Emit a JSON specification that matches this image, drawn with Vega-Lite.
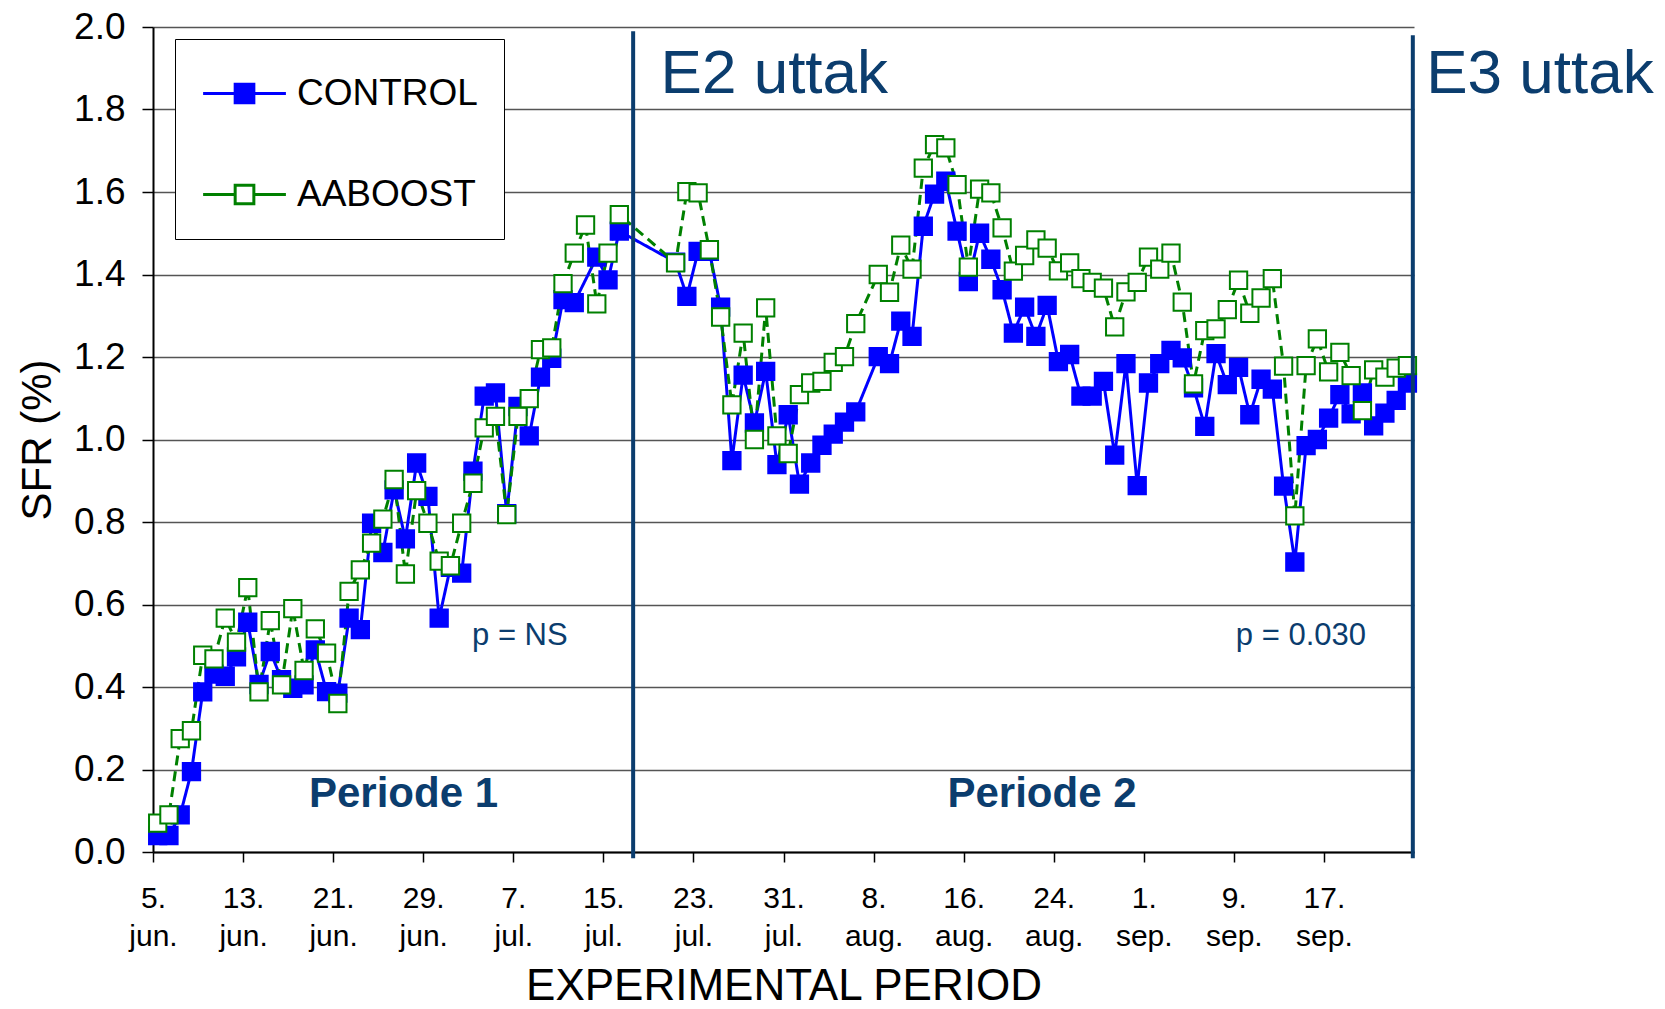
{
  "$schema": "https://vega.github.io/schema/vega-lite/v6.json",
  "width": 1261,
  "height": 825,
  "autosize": {"type": "none"},
  "padding": {"left": 153, "top": 27, "right": 251, "bottom": 157},
  "config": {"view": {"stroke": null}, "font": "Liberation Sans"},
  "datasets": {
    "sfr": [
      {"date": "2009-06-05T10:00Z", "CONTROL": 0.04, "AABOOST": 0.07},
      {"date": "2009-06-06T10:00Z", "CONTROL": 0.04, "AABOOST": 0.09},
      {"date": "2009-06-07T10:00Z", "CONTROL": 0.09, "AABOOST": 0.275},
      {"date": "2009-06-08T10:00Z", "CONTROL": 0.195, "AABOOST": 0.294},
      {"date": "2009-06-09T10:00Z", "CONTROL": 0.388, "AABOOST": 0.477},
      {"date": "2009-06-10T10:00Z", "CONTROL": 0.431, "AABOOST": 0.468},
      {"date": "2009-06-11T10:00Z", "CONTROL": 0.426, "AABOOST": 0.567},
      {"date": "2009-06-12T10:00Z", "CONTROL": 0.473, "AABOOST": 0.509},
      {"date": "2009-06-13T10:00Z", "CONTROL": 0.557, "AABOOST": 0.641},
      {"date": "2009-06-14T10:00Z", "CONTROL": 0.406, "AABOOST": 0.388},
      {"date": "2009-06-15T10:00Z", "CONTROL": 0.486, "AABOOST": 0.561},
      {"date": "2009-06-16T10:00Z", "CONTROL": 0.418, "AABOOST": 0.405},
      {"date": "2009-06-17T10:00Z", "CONTROL": 0.397, "AABOOST": 0.59},
      {"date": "2009-06-18T10:00Z", "CONTROL": 0.405, "AABOOST": 0.44},
      {"date": "2009-06-19T10:00Z", "CONTROL": 0.49, "AABOOST": 0.541},
      {"date": "2009-06-20T10:00Z", "CONTROL": 0.389, "AABOOST": 0.482},
      {"date": "2009-06-21T10:00Z", "CONTROL": 0.385, "AABOOST": 0.36},
      {"date": "2009-06-22T10:00Z", "CONTROL": 0.567, "AABOOST": 0.632},
      {"date": "2009-06-23T10:00Z", "CONTROL": 0.539, "AABOOST": 0.684},
      {"date": "2009-06-24T10:00Z", "CONTROL": 0.797, "AABOOST": 0.749},
      {"date": "2009-06-25T10:00Z", "CONTROL": 0.726, "AABOOST": 0.807},
      {"date": "2009-06-26T10:00Z", "CONTROL": 0.878, "AABOOST": 0.903},
      {"date": "2009-06-27T10:00Z", "CONTROL": 0.759, "AABOOST": 0.674},
      {"date": "2009-06-28T10:00Z", "CONTROL": 0.943, "AABOOST": 0.876},
      {"date": "2009-06-29T10:00Z", "CONTROL": 0.862, "AABOOST": 0.797},
      {"date": "2009-06-30T10:00Z", "CONTROL": 0.567, "AABOOST": 0.705},
      {"date": "2009-07-01T10:00Z", "CONTROL": 0.69, "AABOOST": 0.694},
      {"date": "2009-07-02T10:00Z", "CONTROL": 0.676, "AABOOST": 0.797},
      {"date": "2009-07-03T10:00Z", "CONTROL": 0.923, "AABOOST": 0.894},
      {"date": "2009-07-04T10:00Z", "CONTROL": 1.105, "AABOOST": 1.028},
      {"date": "2009-07-05T10:00Z", "CONTROL": 1.113, "AABOOST": 1.056},
      {"date": "2009-07-06T10:00Z", "CONTROL": 0.82, "AABOOST": 0.818},
      {"date": "2009-07-07T10:00Z", "CONTROL": 1.08, "AABOOST": 1.056},
      {"date": "2009-07-08T10:00Z", "CONTROL": 1.009, "AABOOST": 1.099},
      {"date": "2009-07-09T10:00Z", "CONTROL": 1.151, "AABOOST": 1.218},
      {"date": "2009-07-10T10:00Z", "CONTROL": 1.197, "AABOOST": 1.222},
      {"date": "2009-07-11T10:00Z", "CONTROL": 1.339, "AABOOST": 1.378},
      {"date": "2009-07-12T10:00Z", "CONTROL": 1.332, "AABOOST": 1.452},
      {"date": "2009-07-13T10:00Z", "AABOOST": 1.52},
      {"date": "2009-07-14T10:00Z", "CONTROL": 1.442, "AABOOST": 1.329},
      {"date": "2009-07-15T10:00Z", "CONTROL": 1.387, "AABOOST": 1.452},
      {"date": "2009-07-16T10:00Z", "CONTROL": 1.505, "AABOOST": 1.545},
      {"date": "2009-07-21T10:00Z", "CONTROL": 1.43, "AABOOST": 1.428},
      {"date": "2009-07-22T10:00Z", "CONTROL": 1.347, "AABOOST": 1.601},
      {"date": "2009-07-23T10:00Z", "CONTROL": 1.456, "AABOOST": 1.598},
      {"date": "2009-07-24T10:00Z", "CONTROL": 1.456, "AABOOST": 1.46},
      {"date": "2009-07-25T10:00Z", "CONTROL": 1.321, "AABOOST": 1.297},
      {"date": "2009-07-26T10:00Z", "CONTROL": 0.949, "AABOOST": 1.084},
      {"date": "2009-07-27T10:00Z", "CONTROL": 1.156, "AABOOST": 1.258},
      {"date": "2009-07-28T10:00Z", "CONTROL": 1.04, "AABOOST": 1.0},
      {"date": "2009-07-29T10:00Z", "CONTROL": 1.165, "AABOOST": 1.319},
      {"date": "2009-07-30T10:00Z", "CONTROL": 0.939, "AABOOST": 1.009},
      {"date": "2009-07-31T10:00Z", "CONTROL": 1.06, "AABOOST": 0.966},
      {"date": "2009-08-01T10:00Z", "CONTROL": 0.892, "AABOOST": 1.109},
      {"date": "2009-08-02T10:00Z", "CONTROL": 0.943, "AABOOST": 1.137},
      {"date": "2009-08-03T10:00Z", "CONTROL": 0.986, "AABOOST": 1.141},
      {"date": "2009-08-04T10:00Z", "CONTROL": 1.013, "AABOOST": 1.187},
      {"date": "2009-08-05T10:00Z", "CONTROL": 1.042, "AABOOST": 1.201},
      {"date": "2009-08-06T10:00Z", "CONTROL": 1.067, "AABOOST": 1.281},
      {"date": "2009-08-08T10:00Z", "CONTROL": 1.201, "AABOOST": 1.4},
      {"date": "2009-08-09T10:00Z", "CONTROL": 1.184, "AABOOST": 1.357},
      {"date": "2009-08-10T10:00Z", "CONTROL": 1.287, "AABOOST": 1.471},
      {"date": "2009-08-11T10:00Z", "CONTROL": 1.25, "AABOOST": 1.413},
      {"date": "2009-08-12T10:00Z", "CONTROL": 1.517, "AABOOST": 1.658},
      {"date": "2009-08-13T10:00Z", "CONTROL": 1.595, "AABOOST": 1.715},
      {"date": "2009-08-14T10:00Z", "CONTROL": 1.626, "AABOOST": 1.707},
      {"date": "2009-08-15T10:00Z", "CONTROL": 1.505, "AABOOST": 1.618},
      {"date": "2009-08-16T10:00Z", "CONTROL": 1.383, "AABOOST": 1.418},
      {"date": "2009-08-17T10:00Z", "CONTROL": 1.5, "AABOOST": 1.607},
      {"date": "2009-08-18T10:00Z", "CONTROL": 1.437, "AABOOST": 1.598},
      {"date": "2009-08-19T10:00Z", "CONTROL": 1.363, "AABOOST": 1.513},
      {"date": "2009-08-20T10:00Z", "CONTROL": 1.258, "AABOOST": 1.408},
      {"date": "2009-08-21T10:00Z", "CONTROL": 1.321, "AABOOST": 1.446},
      {"date": "2009-08-22T10:00Z", "CONTROL": 1.25, "AABOOST": 1.484},
      {"date": "2009-08-23T10:00Z", "CONTROL": 1.325, "AABOOST": 1.464},
      {"date": "2009-08-24T10:00Z", "CONTROL": 1.189, "AABOOST": 1.409},
      {"date": "2009-08-25T10:00Z", "CONTROL": 1.206, "AABOOST": 1.428},
      {"date": "2009-08-26T10:00Z", "CONTROL": 1.105, "AABOOST": 1.39},
      {"date": "2009-08-27T10:00Z", "CONTROL": 1.105, "AABOOST": 1.381},
      {"date": "2009-08-28T10:00Z", "CONTROL": 1.141, "AABOOST": 1.367},
      {"date": "2009-08-29T10:00Z", "CONTROL": 0.962, "AABOOST": 1.273},
      {"date": "2009-08-30T10:00Z", "CONTROL": 1.184, "AABOOST": 1.358},
      {"date": "2009-08-31T10:00Z", "CONTROL": 0.888, "AABOOST": 1.381},
      {"date": "2009-09-01T10:00Z", "CONTROL": 1.137, "AABOOST": 1.442},
      {"date": "2009-09-02T10:00Z", "CONTROL": 1.184, "AABOOST": 1.413},
      {"date": "2009-09-03T10:00Z", "CONTROL": 1.216, "AABOOST": 1.452},
      {"date": "2009-09-04T10:00Z", "CONTROL": 1.198, "AABOOST": 1.333},
      {"date": "2009-09-05T10:00Z", "CONTROL": 1.125, "AABOOST": 1.135},
      {"date": "2009-09-06T10:00Z", "CONTROL": 1.032, "AABOOST": 1.264},
      {"date": "2009-09-07T10:00Z", "CONTROL": 1.208, "AABOOST": 1.268},
      {"date": "2009-09-08T10:00Z", "CONTROL": 1.133, "AABOOST": 1.315},
      {"date": "2009-09-09T10:00Z", "CONTROL": 1.175, "AABOOST": 1.386},
      {"date": "2009-09-10T10:00Z", "CONTROL": 1.06, "AABOOST": 1.306},
      {"date": "2009-09-11T10:00Z", "CONTROL": 1.146, "AABOOST": 1.343},
      {"date": "2009-09-12T10:00Z", "CONTROL": 1.122, "AABOOST": 1.39},
      {"date": "2009-09-13T10:00Z", "CONTROL": 0.887, "AABOOST": 1.178},
      {"date": "2009-09-14T10:00Z", "CONTROL": 0.703, "AABOOST": 0.815},
      {"date": "2009-09-15T10:00Z", "CONTROL": 0.985, "AABOOST": 1.179},
      {"date": "2009-09-16T10:00Z", "CONTROL": 1.0, "AABOOST": 1.244},
      {"date": "2009-09-17T10:00Z", "CONTROL": 1.052, "AABOOST": 1.164},
      {"date": "2009-09-18T10:00Z", "CONTROL": 1.109, "AABOOST": 1.211},
      {"date": "2009-09-19T10:00Z", "CONTROL": 1.062, "AABOOST": 1.155},
      {"date": "2009-09-20T10:00Z", "CONTROL": 1.113, "AABOOST": 1.07},
      {"date": "2009-09-21T10:00Z", "CONTROL": 1.033, "AABOOST": 1.169},
      {"date": "2009-09-22T10:00Z", "CONTROL": 1.064, "AABOOST": 1.151},
      {"date": "2009-09-23T10:00Z", "CONTROL": 1.095, "AABOOST": 1.173},
      {"date": "2009-09-24T10:00Z", "CONTROL": 1.137, "AABOOST": 1.179}
    ],
    "events": [
      {"event": "E2", "date": "2009-07-17T15:30Z", "sfr": 1.99},
      {"event": "E3", "date": "2009-09-24T21:30Z", "sfr": 1.98}
    ],
    "bigLabels": [
      {"label": "E2 uttak", "date": "2009-07-20T02:00Z", "sfr": 1.84},
      {"label": "E3 uttak", "date": "2009-09-26T02:00Z", "sfr": 1.84}
    ],
    "periods": [
      {"label": "Periode 1", "date": "2009-06-27T06:00Z", "sfr": 0.11},
      {"label": "Periode 2", "date": "2009-08-22T23:00Z", "sfr": 0.11}
    ],
    "pvalues": [
      {"label": "p = NS", "date": "2009-07-07T14:00Z", "sfr": 0.503},
      {"label": "p = 0.030", "date": "2009-09-14T23:00Z", "sfr": 0.503}
    ]
  },
  "layer": [
    {
      "data": {"name": "sfr"},
      "transform": [{"fold": ["CONTROL", "AABOOST"], "as": ["series", "sfr"]}],
      "mark": {"type": "line", "strokeWidth": 3, "invalid": "filter"},
      "encoding": {
        "x": {
          "field": "date", "type": "temporal",
          "scale": {"type": "utc", "nice": false, "domain": [
            {"year": 2009, "month": "Jun", "date": 5, "utc": true},
            {"year": 2009, "month": "Sep", "date": 25, "utc": true}
          ]},
          "axis": {
            "values": [
              {"year": 2009, "month": "Jun", "date": 5, "utc": true},
              {"year": 2009, "month": "Jun", "date": 13, "utc": true},
              {"year": 2009, "month": "Jun", "date": 21, "utc": true},
              {"year": 2009, "month": "Jun", "date": 29, "utc": true},
              {"year": 2009, "month": "Jul", "date": 7, "utc": true},
              {"year": 2009, "month": "Jul", "date": 15, "utc": true},
              {"year": 2009, "month": "Jul", "date": 23, "utc": true},
              {"year": 2009, "month": "Jul", "date": 31, "utc": true},
              {"year": 2009, "month": "Aug", "date": 8, "utc": true},
              {"year": 2009, "month": "Aug", "date": 16, "utc": true},
              {"year": 2009, "month": "Aug", "date": 24, "utc": true},
              {"year": 2009, "month": "Sep", "date": 1, "utc": true},
              {"year": 2009, "month": "Sep", "date": 9, "utc": true},
              {"year": 2009, "month": "Sep", "date": 17, "utc": true}
            ],
            "labelExpr": "[utcdate(datum.value) + '.', ['jan','feb','mar','apr','mai','jun','jul','aug','sep','okt','nov','des'][utcmonth(datum.value)] + '.']",
            "labelFontSize": 30, "labelLineHeight": 38, "labelPadding": 21,
            "labelColor": "black", "labelFlush": false, "labelOverlap": false,
            "labelBaseline": "top",
            "tickSize": 10, "tickColor": "black", "tickWidth": 1.5,
            "domainColor": "black", "domainWidth": 2, "grid": false,
            "title": "EXPERIMENTAL PERIOD", "titleFontSize": 44, "titleFontWeight": "normal",
            "titleColor": "black", "titlePadding": 13
          }
        },
        "y": {
          "field": "sfr", "type": "quantitative",
          "scale": {"domain": [0, 2], "nice": false},
          "axis": {
            "values": [0, 0.2, 0.4, 0.6, 0.8, 1.0, 1.2, 1.4, 1.6, 1.8, 2.0],
            "format": ".1f", "labelFontSize": 37, "labelPadding": 17, "labelColor": "black",
            "labelFlush": false,
            "tickSize": 11, "tickColor": "black", "tickWidth": 1.5,
            "grid": true, "gridColor": "#555555", "gridWidth": 1.3,
            "domainColor": "black", "domainWidth": 2,
            "title": "SFR (%)", "titleFontSize": 42, "titleFontWeight": "normal",
            "titleColor": "black", "titlePadding": 14
          }
        },
        "stroke": {
          "field": "series", "type": "nominal",
          "scale": {"domain": ["CONTROL", "AABOOST"], "range": ["#0000ff", "#008000"]}
        },
        "strokeDash": {
          "condition": {"test": "datum.series == 'AABOOST'", "value": [10, 6]},
          "value": [1, 0]
        }
      }
    },
    {
      "data": {"name": "sfr"},
      "transform": [{"fold": ["CONTROL", "AABOOST"], "as": ["series", "sfr"]}],
      "mark": {"type": "point", "shape": "square", "size": 300, "strokeWidth": 2, "opacity": 1, "filled": true, "invalid": "filter"},
      "encoding": {
        "x": {"field": "date", "type": "temporal"},
        "y": {"field": "sfr", "type": "quantitative"},
        "fill": {
          "field": "series", "type": "nominal",
          "scale": {"domain": ["CONTROL", "AABOOST"], "range": ["#0000ff", "#ffffff"]},
          "legend": {
            "orient": "none", "legendX": 22, "legendY": 12, "title": null,
            "padding": 26, "strokeColor": "black", "fillColor": "white",
            "labelFontSize": 37, "labelColor": "black", "labelOffset": 39, "labelLimit": 400,
            "rowPadding": 54, "symbolSize": 2916, "symbolStrokeWidth": 3,
            "symbolType": "M-0.977,0H0.21M0.902,0H2.089M0.21,-0.346H0.902V0.346H0.21Z",
            "encode": {"symbols": {"update": {
              "strokeWidth": {"value": 3},
              "shape": {"value": "M-0.977,0H0.21M0.902,0H2.089M0.21,-0.346H0.902V0.346H0.21Z"}
            }}}
          }
        },
        "stroke": {
          "field": "series", "type": "nominal",
          "legend": {
            "orient": "none", "legendX": 22, "legendY": 12, "title": null,
            "padding": 26, "strokeColor": "black", "fillColor": "white",
            "labelFontSize": 37, "labelColor": "black", "labelOffset": 39, "labelLimit": 400,
            "rowPadding": 54, "symbolSize": 2916, "symbolStrokeWidth": 3,
            "symbolType": "M-0.977,0H0.21M0.902,0H2.089M0.21,-0.346H0.902V0.346H0.21Z",
            "encode": {"symbols": {"update": {
              "strokeWidth": {"value": 3},
              "shape": {"value": "M-0.977,0H0.21M0.902,0H2.089M0.21,-0.346H0.902V0.346H0.21Z"}
            }}}
          }
        },
        "order": {"field": "series", "sort": "descending"}
      }
    },
    {
      "data": {"name": "events"},
      "mark": {"type": "rule", "strokeWidth": 4, "color": "#0b3d6e"},
      "encoding": {
        "x": {"field": "date", "type": "temporal"},
        "y": {"field": "sfr", "type": "quantitative"},
        "y2": {"datum": -0.015}
      }
    },
    {
      "data": {"name": "bigLabels"},
      "mark": {"type": "text", "fontSize": 62, "align": "left", "baseline": "alphabetic", "color": "#0b3d6e"},
      "encoding": {
        "x": {"field": "date", "type": "temporal"},
        "y": {"field": "sfr", "type": "quantitative"},
        "text": {"field": "label"}
      }
    },
    {
      "data": {"name": "periods"},
      "mark": {"type": "text", "fontSize": 42, "fontWeight": "bold", "align": "center", "baseline": "alphabetic", "color": "#0b3d6e"},
      "encoding": {
        "x": {"field": "date", "type": "temporal"},
        "y": {"field": "sfr", "type": "quantitative"},
        "text": {"field": "label"}
      }
    },
    {
      "data": {"name": "pvalues"},
      "mark": {"type": "text", "fontSize": 31, "align": "center", "baseline": "alphabetic", "color": "#0b3d6e"},
      "encoding": {
        "x": {"field": "date", "type": "temporal"},
        "y": {"field": "sfr", "type": "quantitative"},
        "text": {"field": "label"}
      }
    }
  ]
}
